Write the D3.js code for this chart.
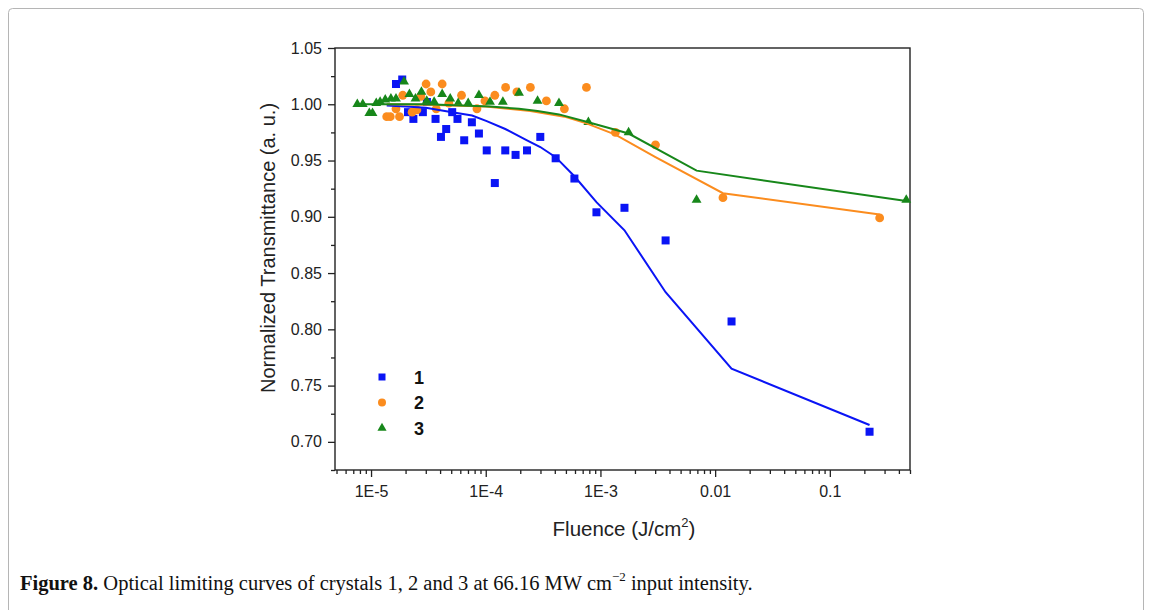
<!DOCTYPE html>
<html>
<head>
<meta charset="utf-8">
<script src="https://cdn.jsdelivr.net/npm/d3@7"></script>
<style>
body { margin: 0; background: #fff; }
svg { display: block; }
</style>
</head>
<body>
<div id="chart"></div>
<script>
// crystal 1 (blue squares)
const fluence1 = [1.65e-5, 1.87e-5, 2.10e-5, 2.34e-5, 2.83e-5, 3.07e-5, 3.65e-5, 4.07e-5, 4.52e-5, 5.10e-5, 5.67e-5, 6.49e-5, 7.57e-5, 8.72e-5, 1.02e-4, 1.20e-4, 1.48e-4, 1.82e-4, 2.29e-4, 2.99e-4, 4.07e-4, 5.93e-4, 9.23e-4, 1.62e-3, 3.70e-3, 0.0139, 0.222];
const trans1 = [1.018, 1.022, 0.993, 0.987, 0.993, 1.002, 0.987, 0.971, 0.978, 0.993, 0.987, 0.968, 0.984, 0.974, 0.959, 0.930, 0.959, 0.955, 0.959, 0.971, 0.952, 0.934, 0.904, 0.908, 0.879, 0.807, 0.709];
// crystal 2 (orange circles)
const fluence2 = [1.37e-5, 1.47e-5, 1.65e-5, 1.77e-5, 1.89e-5, 2.28e-5, 2.51e-5, 2.72e-5, 3.02e-5, 3.32e-5, 3.70e-5, 4.17e-5, 4.77e-5, 6.15e-5, 8.38e-5, 9.84e-5, 1.20e-4, 1.49e-4, 1.87e-4, 2.45e-4, 3.38e-4, 4.85e-4, 7.55e-4, 1.35e-3, 3.02e-3, 0.0117, 0.272];
const trans2 = [0.989, 0.989, 0.996, 0.989, 1.008, 0.993, 0.995, 1.007, 1.018, 1.011, 0.996, 1.018, 1.001, 1.008, 0.996, 1.003, 1.008, 1.015, 1.011, 1.015, 1.003, 0.996, 1.015, 0.975, 0.964, 0.917, 0.899];
// crystal 3 (green triangles)
const fluence3 = [7.59e-6, 8.47e-6, 9.66e-6, 1.03e-5, 1.11e-5, 1.20e-5, 1.33e-5, 1.49e-5, 1.65e-5, 1.94e-5, 2.16e-5, 2.44e-5, 2.75e-5, 3.06e-5, 3.55e-5, 4.17e-5, 4.90e-5, 5.75e-5, 7.03e-5, 8.72e-5, 1.09e-4, 1.41e-4, 1.95e-4, 2.83e-4, 4.35e-4, 7.85e-4, 1.76e-3, 6.89e-3, 0.464];
const trans3 = [1.000, 1.000, 0.992, 0.992, 1.001, 1.002, 1.004, 1.005, 1.005, 1.020, 1.009, 1.005, 1.011, 1.003, 1.002, 1.009, 1.005, 1.001, 1.001, 1.008, 1.002, 1.002, 1.010, 1.003, 1.001, 0.984, 0.975, 0.915, 0.915];

// fitted curves
const fitF1 = [1.37e-5, 2.0e-5, 3.0e-5, 5.1e-5, 7.6e-5, 1.02e-4, 1.48e-4, 2.29e-4, 2.99e-4, 4.07e-4, 5.93e-4, 9.23e-4, 1.62e-3, 3.70e-3, 0.0139, 0.222];
const fitT1 = [0.999, 0.998, 0.997, 0.993, 0.990, 0.985, 0.978, 0.968, 0.962, 0.953, 0.936, 0.913, 0.888, 0.833, 0.765, 0.715];
const fitF2 = [1.37e-5, 3.0e-5, 1.0e-4, 2.45e-4, 4.85e-4, 7.55e-4, 1.35e-3, 3.02e-3, 0.0117, 0.272];
const fitT2 = [1.000, 0.9995, 0.998, 0.994, 0.989, 0.983, 0.973, 0.953, 0.921, 0.902];
const fitF3 = [7.59e-6, 3.0e-5, 1.09e-4, 1.95e-4, 2.83e-4, 4.35e-4, 7.85e-4, 1.76e-3, 6.89e-3, 0.464];
const fitT3 = [1.000, 1.000, 0.998, 0.996, 0.994, 0.991, 0.984, 0.974, 0.941, 0.914];

const xMajor = [1e-5, 1e-4, 1e-3, 0.01, 0.1];
const xMajorLabels = ['1E-5', '1E-4', '1E-3', '0.01', '0.1'];
const yMajor = [0.70, 0.75, 0.80, 0.85, 0.90, 0.95, 1.00, 1.05];

const COLORS = { s1: '#0a14f5', s2: '#fb8c1e', s3: '#17871a' };

const W = 1153, H = 610;
const plot = { left: 335, right: 910, top: 48, bottom: 470 };

const svg = d3.select('#chart').append('svg')
    .attr('width', W)
    .attr('height', H)
    .style('font-family', '"Liberation Sans", Arial, sans-serif');

// outer figure frame
svg.append('rect')
    .attr('x', 8.5).attr('y', 8.5)
    .attr('width', 1135).attr('height', 640)
    .attr('rx', 4)
    .attr('fill', 'none')
    .attr('stroke', '#b5b5b5')
    .attr('stroke-width', 1);

const x = d3.scaleLog().domain([4.85e-6, 0.5]).range([plot.left, plot.right]);
const y = d3.scaleLinear().domain([0.675, 1.05]).range([plot.bottom, plot.top]);

// minor x ticks
const xMinor = [];
for (let e = -6; e <= -1; e++) {
    for (let m = 2; m <= 9; m++) {
        const v = m * Math.pow(10, e);
        if (v >= x.domain()[0] && v <= x.domain()[1]) xMinor.push(v);
    }
}
const yMinor = d3.range(0.675, 1.05, 0.05).map(v => +v.toFixed(3));

const axisFont = 16;

svg.append('g')
    .attr('transform', `translate(0,${plot.bottom})`)
    .call(d3.axisBottom(x).tickValues(xMinor).tickSize(4).tickFormat(''))
    .call(g => g.select('.domain').remove());

const xAxis = svg.append('g')
    .attr('transform', `translate(0,${plot.bottom})`)
    .call(d3.axisBottom(x).tickValues(xMajor).tickSize(7).tickPadding(9)
        .tickFormat((d, i) => xMajorLabels[i]));
xAxis.select('.domain').remove();
xAxis.selectAll('text').attr('font-size', axisFont).attr('fill', '#222').attr('font-family', null);

svg.append('g')
    .attr('transform', `translate(${plot.left},0)`)
    .call(d3.axisLeft(y).tickValues(yMinor).tickSize(4).tickFormat(''))
    .call(g => g.select('.domain').remove());

const yAxis = svg.append('g')
    .attr('transform', `translate(${plot.left},0)`)
    .call(d3.axisLeft(y).tickValues(yMajor).tickSize(7).tickPadding(6)
        .tickFormat(d3.format('.2f')));
yAxis.select('.domain').remove();
yAxis.selectAll('text').attr('font-size', axisFont).attr('fill', '#222').attr('font-family', null);

svg.selectAll('.tick line').attr('stroke', '#222').attr('stroke-width', 1.3);

// plot frame
svg.append('rect')
    .attr('x', plot.left).attr('y', plot.top)
    .attr('width', plot.right - plot.left)
    .attr('height', plot.bottom - plot.top)
    .attr('fill', 'none')
    .attr('stroke', '#222')
    .attr('stroke-width', 1.4);

// axis titles
svg.append('text')
    .attr('transform', `translate(275,248) rotate(-90)`)
    .attr('text-anchor', 'middle')
    .attr('font-size', 20)
    .attr('fill', '#222')
    .text('Normalized Transmittance (a. u.)');

const xt = svg.append('text')
    .attr('x', 624).attr('y', 536)
    .attr('text-anchor', 'middle')
    .attr('font-size', 20.5)
    .attr('fill', '#222');
xt.append('tspan').text('Fluence (J/cm');
xt.append('tspan').attr('font-size', 13).attr('dy', -9).text('2');
xt.append('tspan').attr('dy', 9).text(')');

// scatter series
const pts = (fx, ty) => fx.map((f, i) => ({ f, t: ty[i] }));

svg.append('g').selectAll('rect')
    .data(pts(fluence1, trans1))
    .enter().append('rect')
    .attr('x', d => x(d.f) - 4).attr('y', d => y(d.t) - 4)
    .attr('width', 8).attr('height', 8)
    .attr('fill', COLORS.s1);

svg.append('g').selectAll('circle')
    .data(pts(fluence2, trans2))
    .enter().append('circle')
    .attr('cx', d => x(d.f)).attr('cy', d => y(d.t))
    .attr('r', 4.4)
    .attr('fill', COLORS.s2);

const tri = d3.symbol().type(d3.symbolTriangle).size(42);
svg.append('g').selectAll('path')
    .data(pts(fluence3, trans3))
    .enter().append('path')
    .attr('d', tri)
    .attr('transform', d => `translate(${x(d.f)},${y(d.t)})`)
    .attr('fill', COLORS.s3);

// fit lines
const line = d3.line().x(d => x(d.f)).y(d => y(d.t));
[[fitF1, fitT1, COLORS.s1], [fitF2, fitT2, COLORS.s2], [fitF3, fitT3, COLORS.s3]].forEach(([f, t, c]) => {
    svg.append('path')
        .datum(pts(f, t))
        .attr('d', line)
        .attr('fill', 'none')
        .attr('stroke', c)
        .attr('stroke-width', 2);
});

// legend
const legendItems = [
    { label: '1', color: COLORS.s1, shape: 'square' },
    { label: '2', color: COLORS.s2, shape: 'circle' },
    { label: '3', color: COLORS.s3, shape: 'triangle' },
];
const lg = svg.append('g').attr('transform', 'translate(382,377)');
legendItems.forEach((it, i) => {
    const g = lg.append('g').attr('transform', `translate(0,${i * 25.5})`);
    if (it.shape === 'square') {
        g.append('rect').attr('x', -3.5).attr('y', -3.5).attr('width', 7).attr('height', 7).attr('fill', it.color);
    } else if (it.shape === 'circle') {
        g.append('circle').attr('r', 4).attr('fill', it.color);
    } else {
        g.append('path').attr('d', d3.symbol().type(d3.symbolTriangle).size(36)).attr('fill', it.color);
    }
    g.append('text')
        .attr('x', 32).attr('y', 6.5)
        .attr('font-size', 18)
        .attr('font-weight', 'bold')
        .attr('fill', '#111')
        .text(it.label);
});

// caption
const cap = svg.append('text')
    .attr('x', 20).attr('y', 590)
    .attr('font-family', '"Liberation Serif", "Times New Roman", serif')
    .attr('font-size', 20.5)
    .attr('fill', '#111');
cap.append('tspan').attr('font-weight', 'bold').text('Figure 8.');
cap.append('tspan').text(' Optical limiting curves of crystals 1, 2 and 3 at 66.16 MW cm');
cap.append('tspan').attr('font-size', 13).attr('dy', -9).text('\u22122');
cap.append('tspan').attr('dy', 9).text(' input intensity.');
</script>
</body>
</html>
